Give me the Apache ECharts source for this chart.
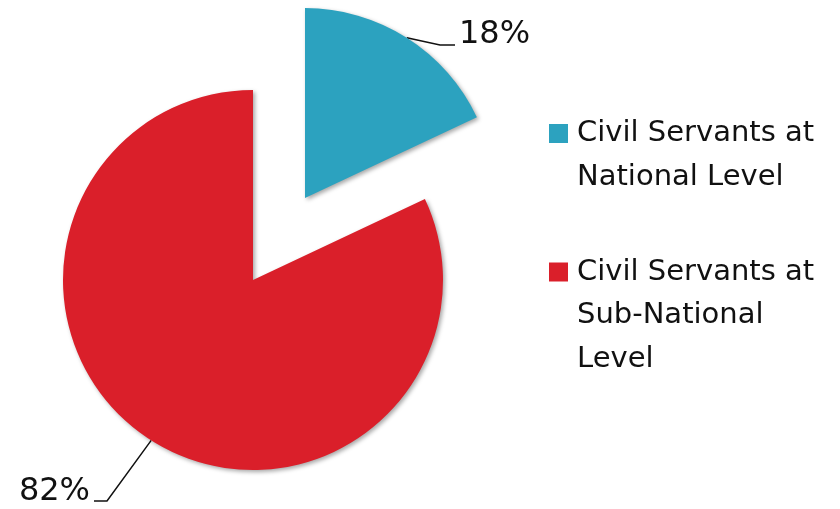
<html>
<head>
<meta charset="utf-8">
<title>Civil Servants</title>
<script src="https://cdn.jsdelivr.net/npm/echarts@6/dist/echarts.min.js"></script>
</head>
<body style="margin:0;background:#fff">
<div id="main" style="width:840px;height:509px"></div>
<script type="text/javascript">
var categories = ['Civil Servants at National Level', 'Civil Servants at Sub-National Level'];
var legendLines = [['Civil Servants at', 'National Level'], ['Civil Servants at', 'Sub-National', 'Level']];
var values = [18, 82];
var colors = ['#2ca2bf', '#da1f2a'];

var myChart = echarts.init(document.getElementById('main'));

// 蓝色扇形单独拉出来：按其中间角度平移圆心
var total = values[0] + values[1];
var mid = values[0] / total * Math.PI; // 弧度，从12点方向顺时针
var center = [253, 280];
var explode = 97;
var center2 = [center[0] + explode * Math.sin(mid), center[1] - explode * Math.cos(mid)];

function makeData(show) {
    var arr = [];
    for (var i = 0; i < categories.length; i++) {
        var on = i === show;
        arr.push({
            name: categories[i],
            value: values[i],
            itemStyle: on ? { color: colors[i] } : { color: 'rgba(0,0,0,0)', shadowBlur: 0, shadowColor: 'rgba(0,0,0,0)' },
            label: { show: on },
            labelLine: { show: on }
        });
    }
    return arr;
}

var pieBase = {
    type: 'pie',
    radius: 190,
    startAngle: 90,
    silent: true,
    itemStyle: { shadowBlur: 4, shadowOffsetX: 2, shadowOffsetY: 2, shadowColor: 'rgba(0,0,0,0.35)' },
    label: { formatter: '{d}%', fontFamily: 'DejaVu Sans', fontSize: 32, color: '#111' },
    labelLine: { lineStyle: { color: '#111', width: 1.5 } }
};

var option = {
    animation: false,
    legend: {
        orient: 'vertical',
        left: 539,
        top: 114,
        itemWidth: 0,
        itemHeight: 0,
        itemGap: 66,
        selectedMode: false,
        formatter: function (name) {
            var k = categories.indexOf(name);
            var lines = legendLines[k];
            var s = '{sq' + k + '| }{g| }{t|' + lines[0] + '}';
            for (var j = 1; j < lines.length; j++) {
                s += '\n{ind| }{t|' + lines[j] + '}';
            }
            return s;
        },
        textStyle: {
            rich: {
                sq0: { width: 19, height: 19, backgroundColor: colors[0] },
                sq1: { width: 19, height: 19, backgroundColor: colors[1] },
                g: { width: 9 },
                ind: { width: 28 },
                t: { fontFamily: 'DejaVu Sans', fontSize: 29, color: '#111', lineHeight: 43.5 }
            }
        },
        data: categories
    },
    series: [
        echarts.util.merge({
            center: center2,
            labelLayout: function (p) {
                var pts = p.labelLinePoints;
                if (p.dataIndex !== 0 || !pts) return {};
                return { x: 459, y: 35, align: 'left', verticalAlign: 'middle',
                    labelLinePoints: [pts[0], [440, 45], [455, 45]] };
            },
            data: makeData(0)
        }, pieBase),
        echarts.util.merge({
            center: center,
            labelLayout: function (p) {
                var pts = p.labelLinePoints;
                if (p.dataIndex !== 1 || !pts) return {};
                return { x: 90, y: 492, align: 'right', verticalAlign: 'middle',
                    labelLinePoints: [pts[0], [107, 501], [94, 501]] };
            },
            data: makeData(1)
        }, pieBase)
    ]
};
myChart.setOption(option);
</script>
</body>
</html>
